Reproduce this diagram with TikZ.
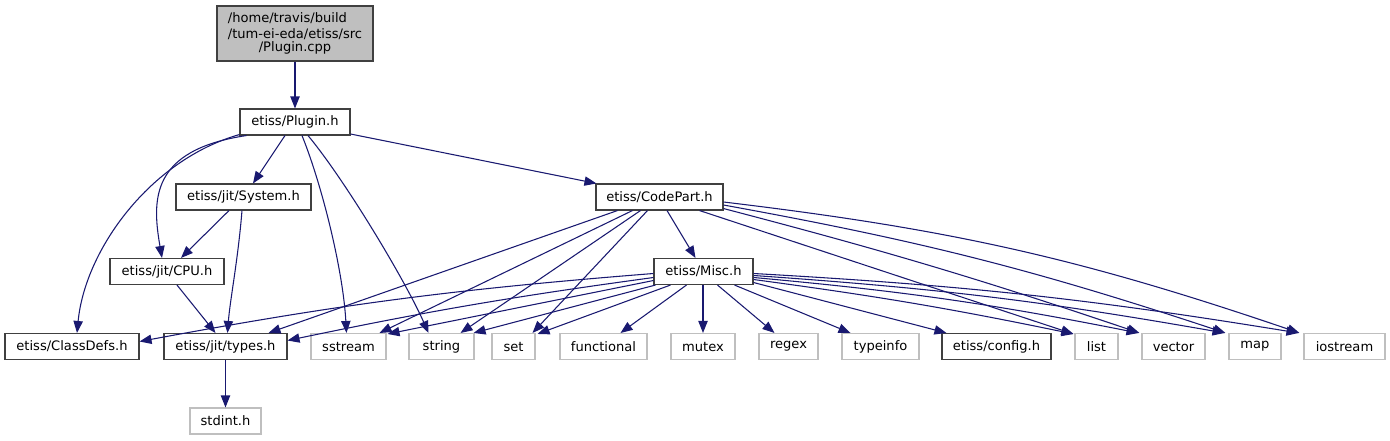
\documentclass[tikz,border=0pt]{standalone}
\usepackage{fontspec}
\setmainfont{DejaVu Sans}
\usetikzlibrary{arrows.meta,calc}
\definecolor{edgeblue}{RGB}{25,25,112}
\definecolor{extgray}{RGB}{191,191,191}
\definecolor{docborder}{RGB}{64,64,64}
\begin{document}
\begin{tikzpicture}[x=0.75pt,y=-0.75pt,
  box/.style={rectangle, inner sep=0pt, line width=0.8pt, minimum height=19.5pt,
    font=\fontsize{9.8pt}{11.3pt}\selectfont, text=black, fill=white},
  doc/.style={box, draw=docborder},
  ext/.style={box, draw=extgray},
  wd/.style={minimum width=#1*0.75pt},
  e/.style={draw=edgeblue, line width=0.8pt, -{Triangle[length=9pt,width=7pt,fill=edgeblue]}}
]
\useasboundingbox (0,0) rectangle (1390,440);
% nodes
\node[doc, fill=extgray, wd=156, minimum height=55*0.75pt, align=center] (cpp) at (295,33.5)
  {\begin{tabular}{@{}l@{}}/home/travis/build\\/tum-ei-eda/etiss/src\end{tabular}\\[-1.5pt]/Plugin.cpp};
\node[doc, wd=110] (plugin) at (295,122) {etiss/Plugin.h};
\node[doc, wd=135] (system) at (243.5,197) {etiss/jit/System.h};
\node[doc, wd=127] (codepart) at (659.5,197) {etiss/CodePart.h};
\node[doc, wd=114] (cpu) at (167,271.5) {etiss/jit/CPU.h};
\node[doc, wd=99] (misc) at (703.5,271.5) {etiss/Misc.h};
\node[doc, wd=134] (classdefs) at (72,346.5) {etiss/ClassDefs.h};
\node[doc, wd=123] (types) at (225.5,346.5) {etiss/jit/types.h};
\node[ext, wd=75] (sstream) at (348.5,346.5) {sstream};
\node[ext, wd=65] (string) at (441.5,346.5) {string};
\node[ext, wd=43] (set) at (513.5,346.5) {set};
\node[ext, wd=87] (functional) at (603.5,346.5) {functional};
\node[ext, wd=64] (mutex) at (703,346.5) {mutex};
\node[ext, wd=59] (regex) at (788.5,346.5) {regex};
\node[ext, wd=77] (typeinfo) at (880.5,346.5) {typeinfo};
\node[doc, wd=109] (config) at (996.5,346.5) {etiss/config.h};
\node[ext, wd=43] (list) at (1096.5,346.5) {list};
\node[ext, wd=63] (vector) at (1173.5,346.5) {vector};
\node[ext, wd=52] (map) at (1255,346.5) {map};
\node[ext, wd=81] (iostream) at (1344.5,346.5) {iostream};
\node[ext, wd=71] (stdint) at (225.5,421) {stdint.h};

% edges from Plugin.cpp / Plugin.h
\draw[e] (cpp.south) -- (plugin.north);
\draw[e] ($(plugin.south west)+(0,-1)$) .. controls (150,160) and (85,250) .. ($(classdefs.north)+(5,0)$);
\draw[e] ($(plugin.south west)+(7,0)$) .. controls (150,150) and (152,200) .. ($(cpu.north)+(-5,0)$);
\draw[e] ($(plugin.south)+(-10,0)$) -- ($(system.north)+(9.5,0)$);
\draw[e] ($(plugin.south)+(7,0)$) .. controls (322,185) and (343,270) .. ($(sstream.north)+(-2,0)$);
\draw[e] ($(plugin.south)+(13,0)$) .. controls (345,180) and (405,280) .. ($(string.north)+(-13,0)$);
\draw[e] ($(plugin.east)+(0,12)$) -- ($(codepart.north west)+(1,0)$);
% System / CPU / types
\draw[e] ($(system.south)+(-14.5,0)$) -- ($(cpu.north)+(14,0)$);
\draw[e] ($(system.south)+(-1.5,0)$) .. controls (238,260) and (230,300) .. ($(types.north)+(2,0)$);
\draw[e] ($(cpu.south)+(10,0)$) -- ($(types.north)+(-10,0)$);
\draw[e] (types.south) -- (stdint.north);
% CodePart
\draw[e] ($(codepart.south)+(-42,0)$) -- ($(types.north)+(43,0)$);
\draw[e] ($(codepart.south)+(-27,0)$) -- ($(sstream.north)+(31,0)$);
\draw[e] ($(codepart.south)+(-19,0)$) -- ($(string.north)+(19,0)$);
\draw[e] ($(codepart.south)+(-12,0)$) -- ($(set.north)+(19,0)$);
\draw[e] ($(codepart.south)+(7.5,0)$) -- ($(misc.north)+(-8,0)$);
\draw[e] ($(codepart.south)+(40,0)$) -- ($(list.north west)+(-1,1)$);
\draw[e] ($(codepart.south east)+(0,-2)$) to[bend left=2] ($(vector.north west)+(-2,0)$);
\draw[e] ($(codepart.east)+(0,8)$) to[bend left=4] ($(map.north west)+(-3,0)$);
\draw[e] ($(codepart.east)+(0,5)$) to[bend left=6] ($(iostream.north west)+(-4,0)$);
% Misc
\draw[e] ($(misc.west)+(0,2)$) to[bend right=3] ($(classdefs.east)+(0,-5)$);
\draw[e] ($(misc.west)+(0,6)$) to[bend right=2] ($(types.east)+(0,-6)$);
\draw[e] ($(misc.west)+(0,9)$) -- ($(sstream.north east)+(1,1)$);
\draw[e] ($(misc.south west)+(2,0)$) -- ($(string.north east)+(-1,0)$);
\draw[e] ($(misc.south)+(-33,0)$) -- ($(set.north east)+(2,1)$);
\draw[e] ($(misc.south)+(-17,0)$) -- ($(functional.north)+(17,0)$);
\draw[e] ($(misc.south)+(-0.5,0)$) -- (mutex.north);
\draw[e] ($(misc.south)+(14,0)$) -- ($(regex.north)+(-14,0)$);
\draw[e] ($(misc.south)+(31,0)$) -- ($(typeinfo.north)+(-30,0)$);
\draw[e] ($(misc.east)+(0,11)$) -- ($(config.north west)+(5,0)$);
\draw[e] ($(misc.east)+(0,8)$) to[bend left=2] ($(list.north west)+(-1,1)$);
\draw[e] ($(misc.east)+(0,6)$) to[bend left=3] ($(vector.north west)+(-3,0)$);
\draw[e] ($(misc.east)+(0,4)$) to[bend left=3] ($(map.north west)+(-4,0)$);
\draw[e] ($(misc.east)+(0,2)$) to[bend left=3] ($(iostream.north west)+(-5,0)$);
\end{tikzpicture}
\end{document}
